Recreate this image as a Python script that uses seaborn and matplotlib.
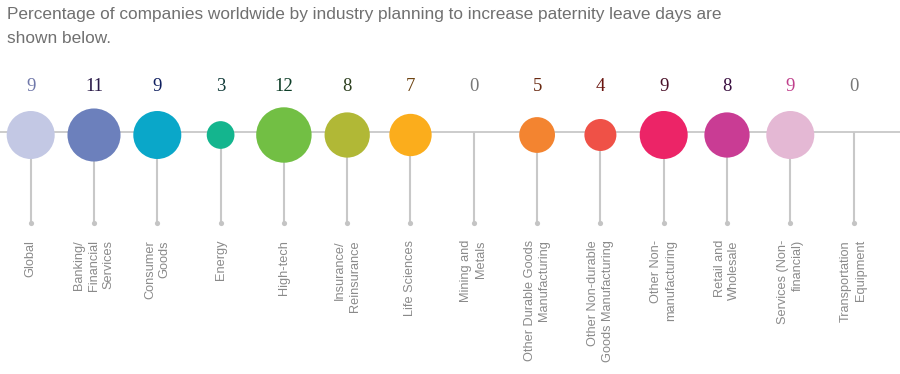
import numpy as np
import pandas as pd
import matplotlib
matplotlib.use('Agg')
import matplotlib.pyplot as plt
import seaborn as sns

# Data
industries = [
    "Global", "Banking/\nFinancial\nServices", "Consumer\nGoods", "Energy",
    "High-tech", "Insurance/\nReinsurance", "Life Sciences", "Mining and\nMetals",
    "Other Durable Goods\nManufacturing", "Other Non-durable\nGoods Manufacturing",
    "Other Non-\nmanufacturing", "Retail and\nWholesale", "Services (Non-\nfinancial)",
    "Transportation\nEquipment",
]
values = [9, 11, 9, 3, 12, 8, 7, 0, 5, 4, 9, 8, 9, 0]
circle_colors = [
    "#c3c8e4", "#6c80bc", "#0aa7c9", "#14b58e", "#72bf44", "#b1b836", "#fbad1c",
    "#cccccc", "#f38430", "#ef5147", "#ec2467", "#c93c94", "#e4b8d4", "#cccccc",
]
number_colors = [
    "#7078aa", "#2a1a48", "#102060", "#103a38", "#0e3e28", "#2e4020", "#6e4412",
    "#777777", "#6a2a12", "#6a140e", "#4a1028", "#3a1040", "#c0408c", "#777777",
]
title = ("Percentage of companies worldwide by industry planning to increase paternity leave days are\n"
         "shown below.")

sns.set_theme(style="white")
plt.rcParams['font.family'] = ['Liberation Sans', 'DejaVu Sans']

df = pd.DataFrame({"industry": industries, "value": values})
df["pos"] = np.arange(len(df))
df["y"] = 135.0

fig = plt.figure(figsize=(9, 3.74), dpi=100)
ax = fig.add_axes([0, 0, 1, 1])

line_y = 132
stem_end = 223

# baseline and stems
ax.axhline(line_y, color="#c4c4c4", lw=1.2, zorder=1)
ax.vlines(df["pos"], line_y, stem_end, color="#c8c8c8", lw=1.5, zorder=1)
ax.scatter(df["pos"], [stem_end] * len(df), s=14, color="#c4c4c4", zorder=2, linewidths=0)

# bubbles: area proportional to value
k = 132.7
size_map = {v: v * k for v in sorted(set(values))}
sns.scatterplot(data=df, x="pos", y="y", size="value", sizes=size_map,
                hue="industry", palette=dict(zip(industries, circle_colors)),
                legend=False, linewidth=0, alpha=1, zorder=3, ax=ax)

# value labels and rotated industry names
for i, row in df.iterrows():
    ax.text(row["pos"], 86, str(row["value"]), ha="center", va="center",
            fontsize=13.5, color=number_colors[i], family=["Liberation Serif", "DejaVu Serif"])
    ax.text(row["pos"], 240, row["industry"], rotation=90, ha="center", va="top",
            multialignment="right", fontsize=9.2, color="#8a8a8a", linespacing=1.3)

ax.set_xlim(-30.7 / 63.3, (900 - 30.7) / 63.3)
ax.set_ylim(374, 0)
ax.axis("off")

fig.text(0.008, 0.982, title, ha="left", va="top", fontsize=12.4, color="#707070",
         linespacing=1.8)

fig.savefig("out.png", dpi=100)
